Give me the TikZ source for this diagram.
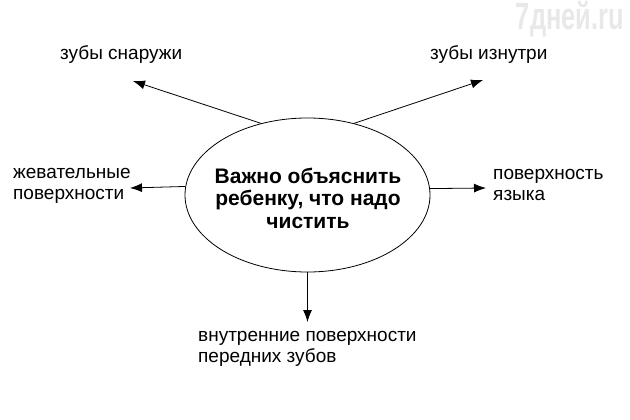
\documentclass[tikz,border=0pt]{standalone}
\usepackage{fontspec}
\setmainfont{Liberation Sans}
\usetikzlibrary{arrows.meta,shapes.geometric}
\begin{document}
\begin{tikzpicture}[x=1pt,y=-1pt,
  lbl/.style={font=\fontsize{19}{21}\selectfont, align=left, inner sep=0pt, anchor=west},
  arr/.style={-{Latex[length=12pt,width=9pt]}, line width=0.8pt},
  hub/.style={ellipse, draw, line width=0.8pt, minimum width=245pt, minimum height=154pt,
    inner sep=0pt},
  hubtext/.style={font=\bfseries\fontsize{21}{22.5}\selectfont, align=center, inner sep=0pt},
  wm/.style={font=\bfseries\fontsize{38}{38}\selectfont, text=gray!18, inner sep=0pt}]
\useasboundingbox (0,0) rectangle (630,420);
\node[hub] (c) at (307.5,195) {};
\node[hubtext] (ct) at (308,198) {Важно объяснить\\ребенку, что надо\\чистить};
\node[lbl] (zs) at (60,55) {зубы снаружи};
\node[lbl] (zi) at (430,55) {зубы изнутри};
\node[lbl] (zh) at (13,186) {жевательные\\поверхности};
\node[lbl] (py) at (493,185) {поверхность\\языка};
\node[lbl] (vp) at (198,349) {внутренние поверхности\\передних зубов};
\node[wm] (w) at (570,19) {\scalebox{0.67}[1]{7дней.ru}};
\coordinate (tl) at (133,81);
\coordinate (tr) at (483,80);
\coordinate (ml) at (130,188);
\coordinate (mr) at (486,188);
\coordinate (bt) at (307.5,322);
\draw[arr] (c.123) -- (tl);
\draw[arr] (c.57.5) -- (tr);
\draw[arr] (c.176.7) -- (ml);
\draw[arr] (c.3.3) -- (mr);
\draw[arr] (c.south) -- (bt);
\end{tikzpicture}
\end{document}
